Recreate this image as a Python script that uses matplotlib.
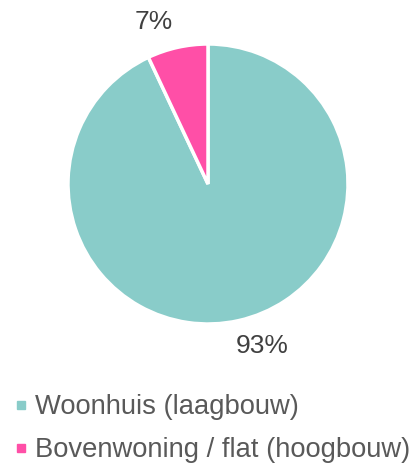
import numpy as np
import matplotlib.pyplot as plt
from matplotlib.lines import Line2D

plt.rcParams['font.family'] = ['Liberation Sans', 'DejaVu Sans']

# data
categories = ['Woonhuis (laagbouw)', 'Bovenwoning / flat (hoogbouw)']
values = [93, 7]
colors = ['#89CCC9', '#FF4FA7']

W, H = 416, 463
fig = plt.figure(figsize=(W / 100, H / 100), dpi=100)
ax = fig.add_axes([0, 0, 1, 1])

cx, cy, r = 208, H - 184, 140
wedges, _ = ax.pie(values, colors=colors, startangle=90, counterclock=False,
                   center=(cx, cy), radius=r, frame=True,
                   wedgeprops=dict(edgecolor='white', linewidth=2.5))
ax.set_xlim(0, W)
ax.set_ylim(0, H)
ax.axis('off')

# percentage labels outside the slices
for w, v in zip(wedges, values):
    ang = np.deg2rad((w.theta1 + w.theta2) / 2 + 6)
    d = r * 1.22
    ax.text(cx + d * np.cos(ang), cy + d * np.sin(ang), f'{v}%',
            ha='center', va='center', fontsize=19, color='#404040')

handles = [Line2D([], [], marker='s', linestyle='none', markersize=6,
                  markerfacecolor=c, markeredgecolor=c) for c in colors]
fig.legend(handles, categories, loc='upper left', bbox_to_anchor=(-0.012, 0.19),
           frameon=False, fontsize=19.7, labelcolor='#595959',
           handlelength=0.5, handletextpad=0.25, labelspacing=0.62,
           borderaxespad=0.3)

fig.savefig('out.png', dpi=100)
